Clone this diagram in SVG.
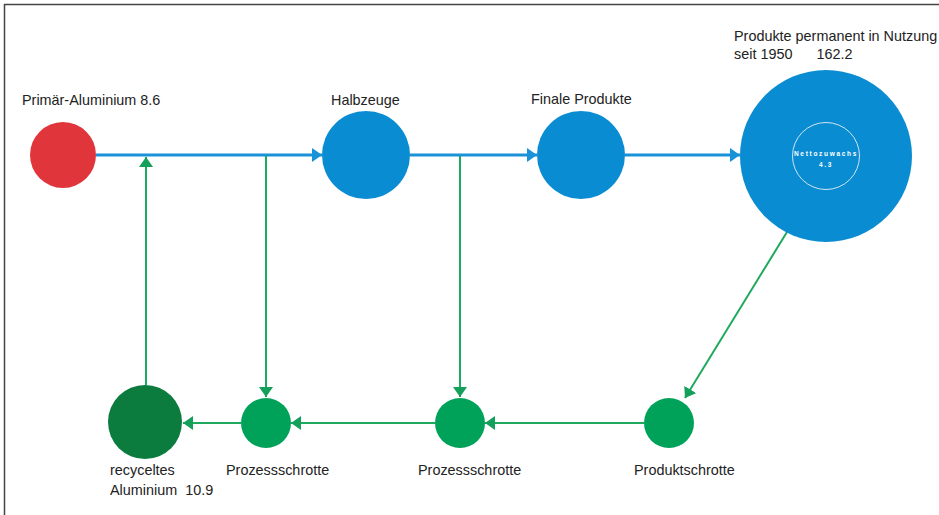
<svg xmlns="http://www.w3.org/2000/svg" width="939" height="515" viewBox="0 0 939 515">
<style>
text{font-family:"Liberation Sans",Arial,sans-serif;font-size:14.4px;fill:#222}
.blue{fill:#0a8cd2}
.bl{stroke:#1a92d8;stroke-width:3;fill:none}
.gl{stroke:#1eaa5e;stroke-width:2;fill:none}
.g{fill:#00a25a}
.inner{font-size:6.5px;fill:#fff;letter-spacing:1.7px;font-weight:bold}
</style>
<defs>
<marker id="ab" markerUnits="userSpaceOnUse" markerWidth="12" markerHeight="14" refX="10" refY="7" orient="auto">
<path d="M0,0 L10,7 L0,14 Z" fill="#1a92d8"/>
</marker>
<marker id="ag" markerUnits="userSpaceOnUse" markerWidth="12" markerHeight="14" refX="10" refY="7" orient="auto">
<path d="M0,0 L10,7 L0,14 Z" fill="#14a05a"/>
</marker>
</defs>
<rect width="939" height="515" fill="#fff"/>
<path d="M4.5,515 V4.5 H939" fill="none" stroke="#444" stroke-width="1.5"/>
<g id="connectors">
<line class="bl" x1="96" y1="155" x2="322" y2="155" marker-end="url(#ab)"/>
<line class="bl" x1="410" y1="155" x2="537" y2="155" marker-end="url(#ab)"/>
<line class="bl" x1="625" y1="155" x2="740" y2="155" marker-end="url(#ab)"/>
<line class="gl" x1="146" y1="385" x2="146" y2="157" marker-end="url(#ag)"/>
<line class="gl" x1="266" y1="156" x2="266" y2="397" marker-end="url(#ag)"/>
<line class="gl" x1="460" y1="156" x2="460" y2="397" marker-end="url(#ag)"/>
<line class="gl" x1="787" y1="232" x2="685" y2="398" marker-end="url(#ag)"/>
<line class="gl" x1="644" y1="423" x2="485" y2="423" marker-end="url(#ag)"/>
<line class="gl" x1="435" y1="423" x2="291" y2="423" marker-end="url(#ag)"/>
<line class="gl" x1="241" y1="423" x2="183" y2="423" marker-end="url(#ag)"/>
</g>
<g id="primaer">
<circle cx="63" cy="155" r="33" fill="#e0353a"/>
<text x="22" y="105">Primär-Aluminium 8.6</text>
</g>
<g id="halbzeuge">
<circle class="blue" cx="366" cy="155" r="44"/>
<text x="331" y="105">Halbzeuge</text>
</g>
<g id="finale">
<circle class="blue" cx="581" cy="155" r="44"/>
<text x="531" y="104">Finale Produkte</text>
</g>
<g id="permanent">
<circle class="blue" cx="826" cy="156" r="86"/>
<circle cx="826" cy="156" r="33.5" fill="none" stroke="#cfe6f5" stroke-width="1"/>
<text class="inner" x="826" y="156" text-anchor="middle">Nettozuwachs</text>
<text class="inner" x="826" y="167" text-anchor="middle">4.3</text>
<text x="734" y="41">Produkte permanent in Nutzung</text>
<text x="734" y="59" xml:space="preserve">seit 1950      162.2</text>
</g>
<g id="recycelt">
<circle cx="145" cy="422" r="37" fill="#0b7c3e"/>
<text x="110" y="475">recyceltes</text>
<text x="110" y="495" xml:space="preserve">Aluminium  10.9</text>
</g>
<g id="prozess1">
<circle class="g" cx="266" cy="423" r="25"/>
<text x="226" y="475">Prozessschrotte</text>
</g>
<g id="prozess2">
<circle class="g" cx="460" cy="423" r="25"/>
<text x="418" y="475">Prozessschrotte</text>
</g>
<g id="produkt">
<circle class="g" cx="669" cy="423" r="25"/>
<text x="634" y="475">Produktschrotte</text>
</g>
</svg>
